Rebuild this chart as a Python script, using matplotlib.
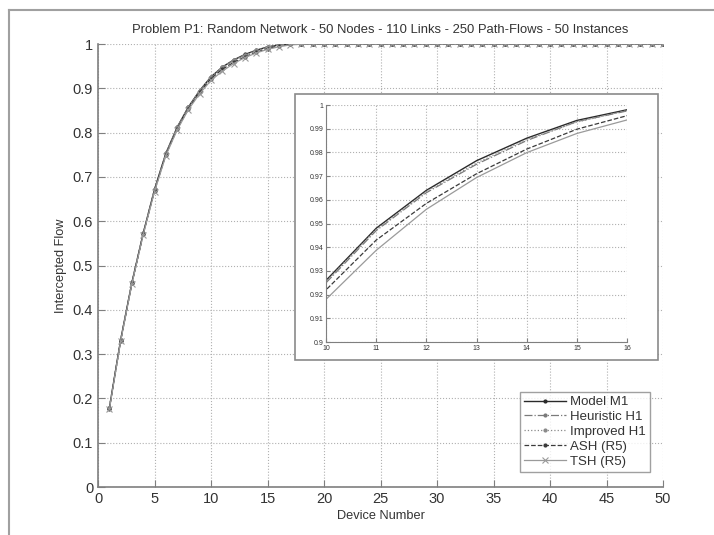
import matplotlib
matplotlib.use("Agg")
import matplotlib.pyplot as plt
from matplotlib.patches import Rectangle

plt.rcParams['font.family'] = ['Liberation Sans', 'DejaVu Sans']

devices = list(range(1, 51))

model_m1 = [0.178, 0.332, 0.462, 0.573, 0.672, 0.753, 0.812, 0.858, 0.895, 0.926,
            0.948, 0.964, 0.9765, 0.986, 0.9935, 0.998, 0.9995, 1.0, 1.0, 1.0,
            1.0, 1.0, 1.0, 1.0, 1.0, 1.0, 1.0, 1.0, 1.0, 1.0,
            1.0, 1.0, 1.0, 1.0, 1.0, 1.0, 1.0, 1.0, 1.0, 1.0,
            1.0, 1.0, 1.0, 1.0, 1.0, 1.0, 1.0, 1.0, 1.0, 1.0]
heuristic_h1 = [0.178, 0.331, 0.461, 0.572, 0.671, 0.752, 0.811, 0.857, 0.894, 0.925,
                0.947, 0.963, 0.975, 0.985, 0.993, 0.9975, 0.9993, 1.0, 1.0, 1.0,
                1.0, 1.0, 1.0, 1.0, 1.0, 1.0, 1.0, 1.0, 1.0, 1.0,
                1.0, 1.0, 1.0, 1.0, 1.0, 1.0, 1.0, 1.0, 1.0, 1.0,
                1.0, 1.0, 1.0, 1.0, 1.0, 1.0, 1.0, 1.0, 1.0, 1.0]
improved_h1 = [0.178, 0.332, 0.462, 0.573, 0.672, 0.753, 0.812, 0.858, 0.895, 0.9255,
               0.9475, 0.9635, 0.9755, 0.9855, 0.9928, 0.9977, 0.9994, 1.0, 1.0, 1.0,
               1.0, 1.0, 1.0, 1.0, 1.0, 1.0, 1.0, 1.0, 1.0, 1.0,
               1.0, 1.0, 1.0, 1.0, 1.0, 1.0, 1.0, 1.0, 1.0, 1.0,
               1.0, 1.0, 1.0, 1.0, 1.0, 1.0, 1.0, 1.0, 1.0, 1.0]
ash_r5 = [0.177, 0.330, 0.460, 0.571, 0.669, 0.750, 0.808, 0.854, 0.891, 0.922,
          0.943, 0.9585, 0.971, 0.9814, 0.9898, 0.9955, 0.999, 0.9998, 1.0, 1.0,
          1.0, 1.0, 1.0, 1.0, 1.0, 1.0, 1.0, 1.0, 1.0, 1.0,
          1.0, 1.0, 1.0, 1.0, 1.0, 1.0, 1.0, 1.0, 1.0, 1.0,
          1.0, 1.0, 1.0, 1.0, 1.0, 1.0, 1.0, 1.0, 1.0, 1.0]
tsh_r5 = [0.175, 0.329, 0.459, 0.570, 0.667, 0.748, 0.806, 0.852, 0.888, 0.918,
          0.9387, 0.956, 0.9694, 0.9799, 0.988, 0.9937, 0.998, 0.9995, 1.0, 1.0,
          1.0, 1.0, 1.0, 1.0, 1.0, 1.0, 1.0, 1.0, 1.0, 1.0,
          1.0, 1.0, 1.0, 1.0, 1.0, 1.0, 1.0, 1.0, 1.0, 1.0,
          1.0, 1.0, 1.0, 1.0, 1.0, 1.0, 1.0, 1.0, 1.0, 1.0]

series = [
    ("Model M1", model_m1, dict(color="#2a2a2a", ls="-", marker=".", ms=4, lw=1.0)),
    ("Heuristic H1", heuristic_h1, dict(color="#7a7a7a", ls="-.", marker=".", ms=4, lw=0.9)),
    ("Improved H1", improved_h1, dict(color="#8a8a8a", ls=":", marker=".", ms=4, lw=0.9)),
    ("ASH (R5)", ash_r5, dict(color="#3a3a3a", ls="--", marker=".", ms=4, lw=0.9)),
    ("TSH (R5)", tsh_r5, dict(color="#9a9a9a", ls="-", marker="x", ms=4, lw=0.9, mew=0.8)),
]

text_c = "#333333"
axis_c = "#7f7f7f"
grid_c = "#b0b0b0"

fig = plt.figure(figsize=(7.14, 5.35), dpi=100)

# gray frame lines (top and left of the page)
fig.add_artist(plt.Line2D([9 / 714, 9 / 714], [0, 1 - 10 / 535], color="#a0a0a0", lw=1.5))
fig.add_artist(plt.Line2D([9 / 714, 1], [1 - 10 / 535, 1 - 10 / 535], color="#a0a0a0", lw=1.5))

ax = fig.add_axes([0.1373, 0.0897, 0.7913, 0.828])
lines = []
for name, vals, st in series:
    ln, = ax.plot(devices, vals, label=name, **st)
    lines.append(ln)
ax.set_xlim(0, 50)
ax.set_ylim(0, 1)
ax.set_xticks(range(0, 51, 5))
ax.set_yticks([i / 10 for i in range(11)])
ax.set_yticklabels(["0", "0.1", "0.2", "0.3", "0.4", "0.5", "0.6", "0.7", "0.8", "0.9", "1"])
ax.grid(True, ls=":", color=grid_c, lw=0.8)
for s in ["top", "right"]:
    ax.spines[s].set_visible(False)
for s in ["left", "bottom"]:
    ax.spines[s].set_color(axis_c)
    ax.spines[s].set_linewidth(1.2)
ax.tick_params(direction="in", length=5, colors=axis_c, labelcolor=text_c, labelsize=10.5)
ax.set_xlabel("Device Number", fontsize=9.2, color=text_c, labelpad=3)
ax.set_ylabel("Intercepted Flow", fontsize=9.2, color=text_c, labelpad=4)
ax.set_title("Problem P1: Random Network - 50 Nodes - 110 Links - 250 Path-Flows - 50 Instances",
             fontsize=9.4, color=text_c, pad=8)

ax.legend(handles=lines, loc="upper right", bbox_to_anchor=(650 / 714, 1 - 392 / 535),
          bbox_transform=fig.transFigure, fontsize=9.5, frameon=True, fancybox=False,
          edgecolor="#888888", handlelength=3.2, borderpad=0.3, labelspacing=0.2,
          handletextpad=0.3, borderaxespad=0)
for t in ax.get_legend().get_texts():
    t.set_color(text_c)

# inset panel
fig.add_artist(Rectangle((295 / 714, 1 - 360 / 535), 363 / 714, 266 / 535,
                         transform=fig.transFigure, facecolor="white",
                         edgecolor="#8a8a8a", lw=1.2, zorder=3))
axi = fig.add_axes([0.4566, 0.3607, 0.4216, 0.443], zorder=4)
for name, vals, st in series:
    st2 = dict(st)
    st2["marker"] = None
    axi.plot(devices, vals, **st2)
axi.set_xlim(10, 16)
axi.set_ylim(0.9, 1.0)
axi.set_xticks(range(10, 17))
yt = [0.9 + i / 100 for i in range(11)]
axi.set_yticks(yt)
axi.set_yticklabels(["0.9", "0.91", "0.92", "0.93", "0.94", "0.95", "0.96", "0.97", "0.98", "0.99", "1"])
axi.grid(True, ls=":", color=grid_c, lw=0.8)
for s in ["top", "right"]:
    axi.spines[s].set_visible(False)
for s in ["left", "bottom"]:
    axi.spines[s].set_color(axis_c)
axi.tick_params(direction="in", length=3, colors=axis_c, labelcolor=text_c, labelsize=5, pad=2)

fig.savefig("out.png", dpi=100)
